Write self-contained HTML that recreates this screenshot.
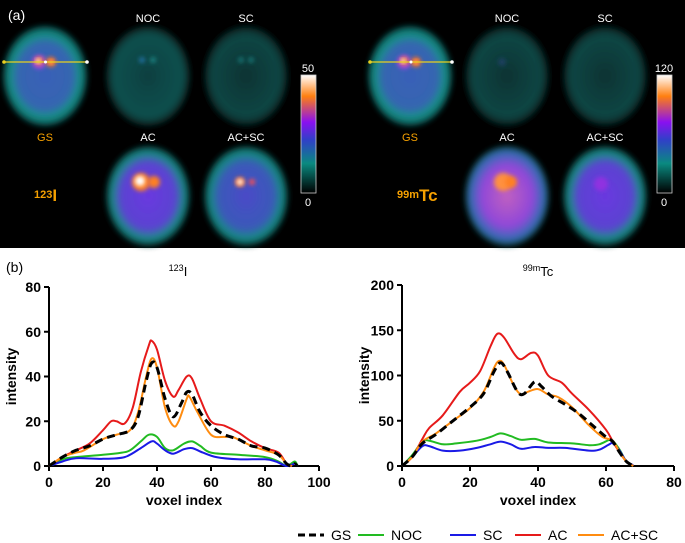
<!DOCTYPE html>
<html><head><meta charset="utf-8"><style>
body{margin:0;width:685px;height:543px;background:#fff;overflow:hidden;font-family:"Liberation Sans",Arial,sans-serif}
svg{position:absolute;left:0;top:0}
</style></head><body>
<svg width="685" height="543" viewBox="0 0 685 543">
<defs>
<filter id="bl" x="-20%" y="-20%" width="140%" height="140%"><feGaussianBlur stdDeviation="3"/></filter>
<filter id="bl2" x="-50%" y="-50%" width="200%" height="200%"><feGaussianBlur stdDeviation="2"/></filter>
<radialGradient id="gGS"><stop offset="0" stop-color="#3a60b8"/><stop offset="0.65" stop-color="#3566b0"/><stop offset="0.82" stop-color="#17908a"/><stop offset="1" stop-color="#0a4a48"/></radialGradient>
<radialGradient id="gNOC"><stop offset="0" stop-color="#0e3f40"/><stop offset="0.8" stop-color="#10504e"/><stop offset="1" stop-color="#062220"/></radialGradient>
<radialGradient id="gSC"><stop offset="0" stop-color="#0a3333"/><stop offset="0.8" stop-color="#0d4644"/><stop offset="1" stop-color="#051c1b"/></radialGradient>
<radialGradient id="gAC"><stop offset="0" stop-color="#6a38e0"/><stop offset="0.65" stop-color="#5a44d0"/><stop offset="0.85" stop-color="#1a8a88"/><stop offset="1" stop-color="#083a38"/></radialGradient>
<radialGradient id="gACSC"><stop offset="0" stop-color="#4a4ac8"/><stop offset="0.65" stop-color="#3a5ab8"/><stop offset="0.85" stop-color="#178a86"/><stop offset="1" stop-color="#073836"/></radialGradient>
<radialGradient id="gACT"><stop offset="0" stop-color="#c060c0"/><stop offset="0.6" stop-color="#9048d8"/><stop offset="0.85" stop-color="#3a6ab8"/><stop offset="1" stop-color="#0a4a48"/></radialGradient>
<linearGradient id="cbar" x1="0" y1="1" x2="0" y2="0"><stop offset="0" stop-color="#000"/><stop offset="0.25" stop-color="#0a8a80"/><stop offset="0.45" stop-color="#3040c8"/><stop offset="0.6" stop-color="#8a10f0"/><stop offset="0.82" stop-color="#ff8010"/><stop offset="1" stop-color="#fff"/></linearGradient>
</defs>
<rect x="0" y="0" width="685" height="248" fill="#000"/>
<g id="imgs"></g>
<text x="8" y="20" fill="#fff" font-size="14">(a)</text>
<g font-size="11" fill="#fff" text-anchor="middle">
<text x="148" y="22">NOC</text>
<text x="246" y="22">SC</text>
<text x="148" y="141">AC</text>
<text x="246" y="141">AC+SC</text>
<text x="45" y="141" fill="#f5a000">GS</text>
<text x="507" y="22">NOC</text>
<text x="605" y="22">SC</text>
<text x="507" y="141">AC</text>
<text x="605" y="141">AC+SC</text>
<text x="410" y="141" fill="#f5a000">GS</text>
</g>
<text x="34" y="198" fill="#f5a000" font-weight="bold" font-size="11">123<tspan font-size="17" dy="3">I</tspan></text>
<text x="397" y="198" fill="#f5a000" font-weight="bold" font-size="11">99m<tspan font-size="17" dy="3">Tc</tspan></text>
<rect x="301" y="75" width="15" height="118" fill="url(#cbar)" stroke="#ccc" stroke-width="0.8"/>
<text x="308" y="72" fill="#fff" font-size="11" text-anchor="middle">50</text>
<text x="308" y="206" fill="#fff" font-size="11" text-anchor="middle">0</text>
<rect x="657" y="75" width="15" height="118" fill="url(#cbar)" stroke="#ccc" stroke-width="0.8"/>
<text x="664" y="72" fill="#fff" font-size="11" text-anchor="middle">120</text>
<text x="664" y="206" fill="#fff" font-size="11" text-anchor="middle">0</text>

<text x="6" y="272" font-size="14" fill="#000">(b)</text>
<text x="178" y="276" font-size="13" text-anchor="middle"><tspan font-size="9" dy="-5">123</tspan><tspan dy="5">I</tspan></text>
<text x="538" y="276" font-size="13" text-anchor="middle"><tspan font-size="9" dy="-5">99m</tspan><tspan dy="5">Tc</tspan></text>
<g id="charts"></g>
<g id="legend" font-size="14" fill="#000"></g>
</svg>
<script>
// ---- Chart data ----
const seriesNames=['GS','NOC','SC','AC','AC+SC'];
const seriesColors=['#000','#22bb22','#1a1ae6','#e61a1a','#ff8c10'];
const i123_GS=[[0,0],[5,4],[10,7],[15,9],[20,12],[25,14],[30,16],[33,22],[36,38],[38,46],[40,44],[43,30],[46,22],[49,28],[51,33],[53,32],[56,24],[60,18],[65,14],[70,12],[75,9],[80,8],[85,5],[88,1],[90,0],[91,1],[92,0]];
const i123_NOC=[[0,0],[5,3],[10,4],[20,5],[27,6],[30,7],[34,11],[37,14],[40,13],[43,8],[46,7],[50,10],[53,11],[56,9],[60,6],[70,5],[80,4],[85,2],[88,0],[91,2],[92,0]];
const i123_SC=[[0,0],[5,2],[10,3.5],[20,3.2],[28,4],[34,8],[38,11],[40,10],[43,7],[46,5.5],[50,7.5],[53,8],[57,6],[62,4],[70,3],[80,3],[84,2],[88,0],[91,1],[92,0]];
const i123_AC=[[0,0],[5,4],[10,7],[15,10],[20,16],[23,20],[25,20],[28,19],[31,26],[34,42],[37,54],[38,56],[40,52],[43,38],[46,31],[48,34],[51,40],[53,39],[56,30],[60,20],[65,18],[70,15],[75,11],[80,8],[85,6],[88,1],[90,0]];
const i123_ACSC=[[0,0],[5,4],[10,6],[13,7],[20,12],[25,14],[30,16],[33,24],[36,40],[38,48],[40,44],[43,26],[46,18],[48,20],[51,30],[52,31],[55,24],[60,14],[65,13],[68,13],[75,9],[80,7],[85,5],[88,1],[90,0]];
const tc_GS=[[0,0],[3,10],[6,25],[10,35],[15,50],[20,65],[24,80],[27,104],[29,114],[31,104],[34,82],[36,80],[39,93],[41,88],[44,77],[48,68],[52,58],[56,45],[60,32],[62,27],[64,15],[66,5],[68,0]];
const tc_NOC=[[0,0],[3,12],[6,27],[8,28],[12,24],[16,25],[22,28],[26,32],[29,36],[32,33],[35,29],[39,30],[43,26],[50,25],[55,23],[58,24],[61,29],[62,28],[64,18],[66,5],[68,0]];
const tc_SC=[[0,0],[3,10],[6,22],[8,22],[12,17],[17,17],[22,20],[26,24],[29,27],[32,24],[35,19],[39,21],[43,20],[48,20],[55,17],[58,18],[61,24],[62,25],[64,17],[66,5],[68,1]];
const tc_AC=[[0,0],[3,10],[6,30],[8,42],[12,56],[17,82],[20,92],[23,105],[26,132],[28,146],[30,142],[33,124],[35,118],[38,125],[40,122],[43,100],[47,92],[50,80],[55,62],[60,40],[62,27],[64,15],[66,5],[68,0]];
const tc_ACSC=[[0,0],[3,10],[6,27],[10,36],[15,50],[20,64],[24,82],[27,108],[28.5,116],[30,112],[33,88],[35,79],[37,82],[40,85],[43,79],[46,76],[50,65],[55,45],[59,32],[62,28],[64,15],[66,5],[68,0]];
const xTicks1=[0,20,40,60,80,100];
const yTicks1=[0,20,40,60,80];
const xTicks2=[0,20,40,60,80];
const yTicks2=[0,50,100,150,200];

const NS='http://www.w3.org/2000/svg';
function mk(tag,attrs,parent){const e=document.createElementNS(NS,tag);for(const k in attrs)e.setAttribute(k,attrs[k]);parent.appendChild(e);return e;}
function smooth(pts){let d='M'+pts[0][0]+','+pts[0][1];for(let i=0;i<pts.length-1;i++){const p0=pts[Math.max(0,i-1)],p1=pts[i],p2=pts[i+1],p3=pts[Math.min(pts.length-1,i+2)];const c1=[p1[0]+(p2[0]-p0[0])/6,p1[1]+(p2[1]-p0[1])/6],c2=[p2[0]-(p3[0]-p1[0])/6,p2[1]-(p3[1]-p1[1])/6];d+=' C'+c1[0].toFixed(1)+','+c1[1].toFixed(1)+' '+c2[0].toFixed(1)+','+c2[1].toFixed(1)+' '+p2[0].toFixed(1)+','+p2[1].toFixed(1);}return d;}
const charts=document.getElementById('charts');
function chart(id,x0,x1,xmax,y0,y1,ymax,xt,yt,series){
  const g=mk('g',{},charts);
  
  
  const sx=v=>x0+(x1-x0)*v/xmax, sy=v=>y0-(y0-y1)*v/ymax;
  const xa=mk('line',{x1:x0,y1:y0,x2:x1,y2:y0,stroke:'#000','stroke-width':2},g);
  
  
  const ya=mk('line',{x1:x0,y1:y0,x2:x0,y2:y1,stroke:'#000','stroke-width':2},g);
  
  
  xt.forEach(v=>{mk('line',{x1:sx(v),y1:y0,x2:sx(v),y2:y0+5,stroke:'#000','stroke-width':2},g);
    const t=mk('text',{x:sx(v),y:y0+21,'text-anchor':'middle','font-size':14,'font-weight':'bold'},g);t.textContent=v;
    
    });
  yt.forEach(v=>{mk('line',{x1:x0-5,y1:sy(v),x2:x0,y2:sy(v),stroke:'#000','stroke-width':2},g);
    const t=mk('text',{x:x0-8,y:sy(v)+5,'text-anchor':'end','font-size':14,'font-weight':'bold'},g);t.textContent=v;
    
    });
  const xl=mk('text',{x:(x0+x1)/2,y:y0+39,'text-anchor':'middle','font-size':14,'font-weight':'bold'},g);xl.textContent='voxel index';
  
  
  const yl=mk('text',{x:0,y:0,'text-anchor':'middle','font-size':14,'font-weight':'bold',transform:'translate('+(x0-33)+','+((y0+y1)/2)+') rotate(-90)'},g);yl.textContent='intensity';
  
  
  const order=[1,2,3,4,0];
  order.forEach(i=>{const pts=series[i].map(p=>[sx(p[0]),sy(p[1])]);
    const p=mk('path',{d:smooth(pts),fill:'none',stroke:seriesColors[i],'stroke-width':i==0?3:2},g);
    if(i==0)p.setAttribute('stroke-dasharray','8,5');
    
    });
}
chart('chart-i123',49,319,100,466,287,80,xTicks1,yTicks1,[i123_GS,i123_NOC,i123_SC,i123_AC,i123_ACSC]);
chart('chart-tc99m',402,674,80,466,285,200,xTicks2,yTicks2,[tc_GS,tc_NOC,tc_SC,tc_AC,tc_ACSC]);

const lg=document.getElementById('legend');
const lx=[298,358,450,515,578];
seriesNames.forEach((n,i)=>{
  const g=mk('g',{},lg);
  
  
  const l=mk('line',{x1:lx[i],y1:535,x2:lx[i]+26,y2:535,stroke:seriesColors[i],'stroke-width':i==0?3:2},g);
  if(i==0)l.setAttribute('stroke-dasharray','7,4');
  const t=mk('text',{x:lx[i]+33,y:540},g);t.textContent=n;
});

// brain images
const imgs=document.getElementById('imgs');
function brain(cx,cy,grad,spots,name){
  const g=mk('g',{},imgs);
  
  
  mk('ellipse',{cx:cx,cy:cy,rx:42,ry:50,fill:'url(#'+grad+')',filter:'url(#bl)'},g);
  spots.forEach(s=>mk('circle',{cx:cx+s[0],cy:cy+s[1],r:s[2],fill:s[3],filter:'url(#bl2)'},g));
}
const hot=[[-6,-14,7,'#a040e0'],[-6,-15,4,'#ff9020'],[-7,-15,2,'#fff'],[6,-14,5,'#ff7020'],[6,-14,2,'#ffb060']];
const T=76,B=196;
brain(45,T,'gGS',hot,'brain-gs-i123');
brain(148,T,'gNOC',[[-6,-16,3,'#2070a0'],[5,-16,3,'#1a8080']],'brain-noc-i123');
brain(246,T,'gSC',[[-5,-16,3,'#157070'],[5,-16,3,'#157070']],'brain-sc-i123');
brain(148,B,'gAC',[[-7,-14,9,'#ff8020'],[-8,-15,5,'#fff'],[6,-14,6,'#ff8020']],'brain-ac-i123');
brain(246,B,'gACSC',[[-6,-14,5,'#ff7020'],[-6,-14,3,'#fff'],[6,-14,3,'#ff5050']],'brain-acsc-i123');
brain(410,T,'gGS',hot,'brain-gs-tc99m');
brain(507,T,'gSC',[[-5,-14,4,'#1a4060']],'brain-noc-tc99m');
brain(605,T,'gSC',[],'brain-sc-tc99m');
brain(507,B,'gACT',[[-4,-14,9,'#ff9040'],[4,-14,6,'#ff8020']],'brain-ac-tc99m');
brain(605,B,'gAC',[[-4,-12,7,'#9030e0']],'brain-acsc-tc99m');
[[4,62,87],[370,62,452]].forEach(a=>{
  const g=mk('g',{},imgs);
  
  
  mk('line',{x1:a[0],y1:a[1],x2:a[2],y2:a[1],stroke:'#e8d020','stroke-width':1.2},g);
  mk('circle',{cx:a[0],cy:a[1],r:1.8,fill:'#e8d020'},g);
  mk('circle',{cx:a[2],cy:a[1],r:1.8,fill:'#fff'},g);
  mk('circle',{cx:(a[0]+a[2])/2,cy:a[1],r:1.5,fill:'#fff'},g);
});
</script>
</body></html>
